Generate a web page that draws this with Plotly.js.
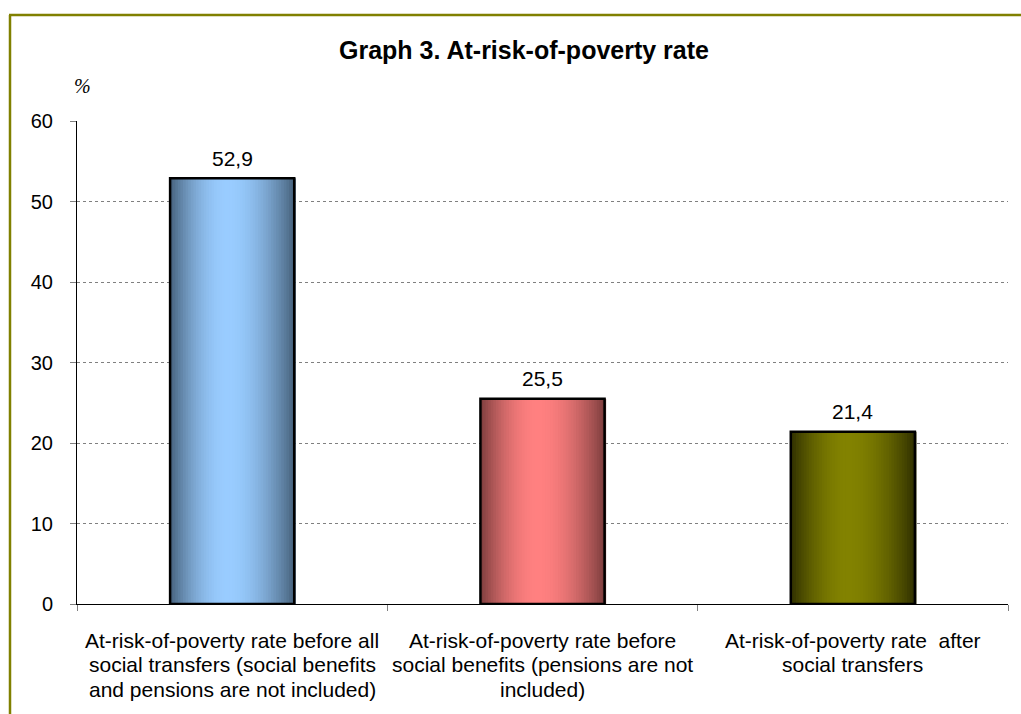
<!DOCTYPE html>
<html>
<head>
<meta charset="utf-8">
<script src="https://cdn.plot.ly/plotly-3.0.1.min.js"></script>
<style>
  html, body { margin: 0; padding: 0; background: #ffffff; }
  #chart { width: 1021px; height: 714px; }
</style>
</head>
<body>
<div id="chart"></div>
<script>
// Poverty indicators (%)
const categories = [
  "At-risk-of-poverty rate before all social transfers (social benefits and pensions are not included)",
  "At-risk-of-poverty rate before social benefits (pensions are not included)",
  "At-risk-of-poverty rate  after social transfers"
];
// Wrapped lines of each category label
const categoryLines = [
  ["At-risk-of-poverty rate before all", "social transfers (social benefits", "and pensions are not included)"],
  ["At-risk-of-poverty rate before", "social benefits (pensions are not", "included)"],
  ["At-risk-of-poverty rate  after", "social transfers"]
];
const values = [52.9, 25.5, 21.4];
const yTicks = [0, 10, 20, 30, 40, 50, 60];

// Per-bar shading: edge colour and centre colour of the cylinder look
const edgeColors = ["#45607a", "#7a3c3c", "#2e2e00"];
const centerColors = ["#99ccff", "#ff8080", "#828200"];

const W = 1021, H = 714;
const plotL = 77, plotR = 1008, plotT = 121, plotB = 604;
const plotW = plotR - plotL, plotH = plotB - plotT;
const barWidth = 0.4;
const FONT = "Liberation Sans, Arial, sans-serif";

function hexToRgb(h) {
  const n = parseInt(h.slice(1), 16);
  return [(n >> 16) & 255, (n >> 8) & 255, n & 255];
}
function mix(a, b, t) {
  const A = hexToRgb(a), B = hexToRgb(b);
  const c = A.map((v, i) => Math.round(v + (B[i] - v) * t));
  return `rgb(${c[0]},${c[1]},${c[2]})`;
}
// brightness profile across a bar: dark edges, light centre
function profile(t) {
  const peak = 0.46;
  const d = t < peak ? (peak - t) / peak : (t - peak) / (1 - peak);
  return Math.pow(Math.cos(d * Math.PI / 2), 0.9);
}

const traces = [];
const strips = 48;
const stripW = barWidth / strips;
for (let i = 0; i < strips; i++) {
  const t = (i + 0.5) / strips;
  const f = profile(t);
  traces.push({
    type: "bar",
    x: categories,
    y: values,
    width: stripW * 1.6,
    offset: -barWidth / 2 + i * stripW,
    marker: { color: values.map((_, k) => mix(edgeColors[k], centerColors[k], f)), line: { width: 0 } },
    hoverinfo: "skip",
    showlegend: false
  });
}
// black outline of each bar
traces.push({
  type: "bar",
  x: categories,
  y: values,
  width: barWidth,
  offset: -barWidth / 2,
  marker: { color: "rgba(0,0,0,0)", line: { color: "#000000", width: 2.5 } },
  hovertemplate: "%{y}<extra></extra>",
  showlegend: false
});

const annotations = [];
// value labels above the bars
values.forEach((v, k) => {
  annotations.push({
    xref: "x", yref: "y",
    x: categories[k], y: v,
    xanchor: "center", yanchor: "middle",
    yshift: 20,
    text: v.toFixed(1).replace(".", ","), showarrow: false,
    font: { family: FONT, size: 21, color: "#000000" }
  });
});
// "%" unit above the value axis
annotations.push({
  xref: "paper", yref: "paper",
  x: (72 - plotL) / plotW, y: (plotB - 86) / plotH,
  xanchor: "left", yanchor: "middle",
  text: "<i>%</i>", showarrow: false,
  font: { family: "Liberation Serif, Times New Roman, serif", size: 20, color: "#000000" }
});
// category labels, one annotation per wrapped line
categoryLines.forEach((lines, k) => {
  lines.forEach((line, j) => {
    annotations.push({
      xref: "x", yref: "paper",
      x: categories[k], y: 0,
      xanchor: "center", yanchor: "middle",
      yshift: -(640 - plotB) - j * 24.5,
      text: line, showarrow: false,
      font: { family: FONT, size: 21, color: "#000000" }
    });
  });
});

// olive frame (top and left edges)
const px = v => (v - plotL) / plotW;
const py = v => (plotB - v) / plotH;
const shapes = [
  { type: "line", xref: "paper", yref: "paper", x0: px(9), x1: px(W + 5), y0: py(15), y1: py(15),
    line: { color: "#808000", width: 2.5 } },
  { type: "line", xref: "paper", yref: "paper", x0: px(10), x1: px(10), y0: py(15), y1: py(H + 5),
    line: { color: "#808000", width: 2.5 } }
];

const layout = {
  width: W, height: H,
  margin: { l: plotL, r: W - plotR, t: plotT, b: H - plotB, pad: 0 },
  paper_bgcolor: "#ffffff",
  plot_bgcolor: "#ffffff",
  barmode: "overlay",
  separators: ", ",
  font: { family: FONT, color: "#000000" },
  title: {
    text: "<b>Graph 3. At-risk-of-poverty rate</b>",
    font: { family: FONT, size: 25, color: "#000000" },
    xref: "paper", x: px(524), xanchor: "center",
    yref: "container", y: 1 - 50 / H, yanchor: "middle"
  },
  xaxis: {
    type: "category",
    range: [-0.5, 2.5],
    showticklabels: false,
    tickson: "boundaries",
    ticks: "outside", ticklen: 6, tickcolor: "#808080", tickwidth: 1,
    showgrid: false, zeroline: false,
    showline: true, linecolor: "#000000", linewidth: 1,
    fixedrange: true
  },
  yaxis: {
    range: [0, 60],
    tickvals: yTicks,
    ticktext: yTicks.map(String),
    ticks: "outside", ticklen: 6, tickcolor: "#808080", tickwidth: 1,
    ticklabelstandoff: 13,
    tickfont: { family: FONT, size: 20, color: "#000000" },
    showgrid: true, gridcolor: "#808080", gridwidth: 1, griddash: "dot",
    zeroline: false,
    showline: true, linecolor: "#000000", linewidth: 1,
    fixedrange: true
  },
  annotations: annotations,
  shapes: shapes
};

Plotly.newPlot("chart", traces, layout, { displayModeBar: false, staticPlot: true });
</script>
</body>
</html>
